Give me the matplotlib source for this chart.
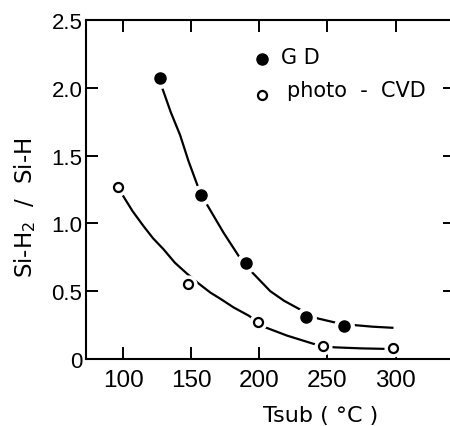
import numpy as np
import matplotlib.pyplot as plt

# measured points
gd_t = [127, 157, 190, 234, 262]
gd_ratio = [2.07, 1.21, 0.71, 0.31, 0.245]
cvd_t = [96, 148, 199, 247, 298]
cvd_ratio = [1.27, 0.55, 0.27, 0.095, 0.08]

# hand-drawn guide curves
gd_curve_t = [128.7, 135, 141.9, 148, 154.6, 161.5, 173.8, 184.8, 194.6, 208, 218, 228.9, 242.4, 255, 269.3, 283, 297.6]
gd_curve_r = [2.00, 1.82, 1.65, 1.46, 1.28, 1.14, 0.93, 0.76, 0.64, 0.50, 0.43, 0.37, 0.30, 0.27, 0.25, 0.238, 0.23]
cvd_curve_t = [100.2, 107, 115, 122, 129.6, 138, 146.8, 155, 164, 172, 181.1, 192.1, 204.4, 220.4, 239.9, 254.6, 275, 293.9]
cvd_curve_r = [1.20, 1.09, 0.98, 0.89, 0.81, 0.71, 0.63, 0.56, 0.49, 0.44, 0.38, 0.32, 0.233, 0.172, 0.111, 0.086, 0.078, 0.074]

xticks = [100, 150, 200, 250, 300]
yticks = [0, 0.5, 1.0, 1.5, 2.0, 2.5]
ytick_labels = ['0', '0.5', '1.0', '1.5', '2.0', '2.5']

fig = plt.figure(figsize=(4.5, 4.27), dpi=100)
ax = fig.add_axes([0.191, 0.157, 0.82, 0.794])

# curves, then white halos so the line breaks around each marker
ax.plot(gd_curve_t, gd_curve_r, '-', color='black', lw=1.6)
ax.plot(cvd_curve_t, cvd_curve_r, '-', color='black', lw=1.6)
ax.plot(gd_t, gd_ratio, 'o', color='white', ms=14, zorder=3)
ax.plot(cvd_t, cvd_ratio, 'o', color='white', ms=12, zorder=3)
ax.plot(gd_t, gd_ratio, 'o', color='black', ms=8, zorder=4)
ax.plot(cvd_t, cvd_ratio, 'o', mfc='white', mec='black', mew=1.6, ms=6.5, zorder=4)

# legend drawn by hand like the original
ax.plot([202], [2.21], 'o', color='black', ms=8)
ax.plot([202], [1.95], 'o', mfc='white', mec='black', mew=1.6, ms=6.5)
ax.text(216, 2.23, 'G D', fontsize=15, va='center', ha='left')
ax.text(220, 1.985, 'photo  -  CVD', fontsize=15, va='center', ha='left')

ax.set_xlim(72.8, 343.5)
ax.set_ylim(0, 2.5)
ax.set_xticks(xticks)
ax.set_xticklabels([str(t) for t in xticks], fontsize=17.5, family='Liberation Sans')
ax.set_yticks(yticks)
ax.set_yticklabels(ytick_labels, fontsize=16, family='Liberation Sans')
ax.tick_params(axis='x', direction='in', length=8.6, width=1.4, top=True, pad=7)
ax.tick_params(axis='y', direction='in', length=8.6, width=1.4, right=True, pad=2.5)
for s in ax.spines.values():
    s.set_linewidth(1.5)

ax.set_xlabel('Tsub ( °C )', fontsize=16)
ax.xaxis.set_label_coords(0.635, -0.135)
ax.set_ylabel(r'Si-H$_2$  /  Si-H', fontsize=16.5)
ax.yaxis.set_label_coords(-0.13, 0.45)

fig.savefig('out.png', dpi=100)
